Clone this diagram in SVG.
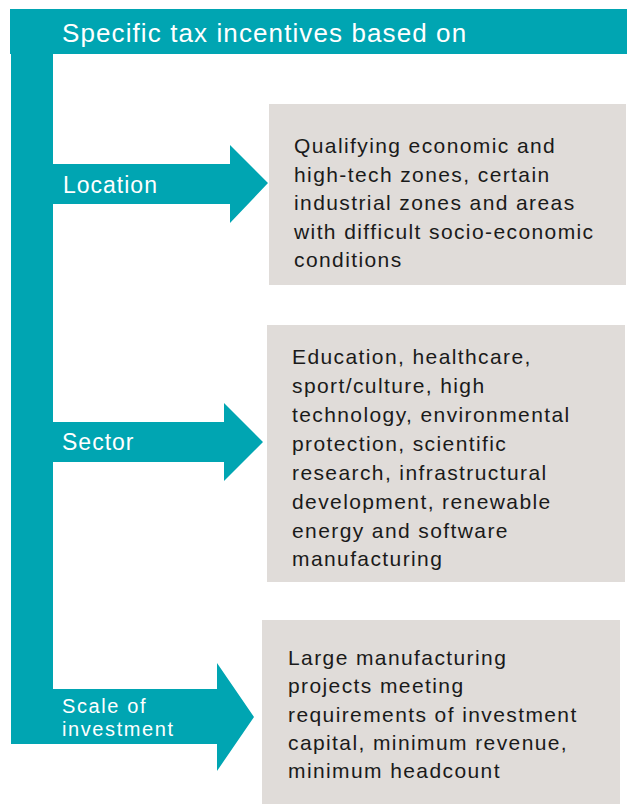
<svg xmlns="http://www.w3.org/2000/svg" width="629" height="804" viewBox="0 0 629 804">
<style>
.teal{fill:#00A5B2}
.box{fill:#E0DCD9}
.body{font-family:"Liberation Sans",Arial,sans-serif;font-size:21px;fill:#1a1a1a;letter-spacing:1.4px}
.lbl{font-family:"Liberation Sans",Arial,sans-serif;font-size:23px;fill:#ffffff;letter-spacing:1px}
.lbl2{font-family:"Liberation Sans",Arial,sans-serif;font-size:20px;fill:#ffffff;letter-spacing:1.6px}
.title{font-family:"Liberation Sans",Arial,sans-serif;font-size:26px;fill:#ffffff;letter-spacing:1.1px}
</style>
<g id="spine">
<rect class="teal" x="10" y="9" width="617" height="45"/>
<rect class="teal" x="11" y="9" width="42" height="735"/>
<text class="title" x="62" y="42">Specific tax incentives based on</text>
</g>
<g id="connectors">
<polygon class="teal" points="53,164 230,164 230,145 268,183 230,223 230,204 53,204"/>
<polygon class="teal" points="53,422 224,422 224,403 263,442 224,481 224,462 53,462"/>
<polygon class="teal" points="11,689 217,689 217,663 254,717 217,771 217,744 11,744"/>
</g>
<g id="location">
<text class="lbl" x="63" y="193">Location</text>
</g>
<g id="sector">
<text class="lbl" x="62" y="450">Sector</text>
</g>
<g id="scale">
<text class="lbl2" x="62" y="713">Scale of</text>
<text class="lbl2" x="62" y="736">investment</text>
</g>
<g id="location-box">
<rect class="box" x="269" y="104" width="357" height="181"/>
<text class="body" x="294" y="153">Qualifying economic and</text>
<text class="body" x="294" y="182">high-tech zones, certain</text>
<text class="body" x="294" y="210">industrial zones and areas</text>
<text class="body" x="294" y="239">with difficult socio-economic</text>
<text class="body" x="294" y="267">conditions</text>
</g>
<g id="sector-box">
<rect class="box" x="267" y="325" width="358" height="257"/>
<text class="body" x="292" y="364">Education, healthcare,</text>
<text class="body" x="292" y="393">sport/culture, high</text>
<text class="body" x="292" y="422">technology, environmental</text>
<text class="body" x="292" y="451">protection, scientific</text>
<text class="body" x="292" y="480">research, infrastructural</text>
<text class="body" x="292" y="509">development, renewable</text>
<text class="body" x="292" y="538">energy and software</text>
<text class="body" x="292" y="566">manufacturing</text>
</g>
<g id="scale-box">
<rect class="box" x="262" y="620" width="358" height="184"/>
<text class="body" x="288" y="665">Large manufacturing</text>
<text class="body" x="288" y="693">projects meeting</text>
<text class="body" x="288" y="722">requirements of investment</text>
<text class="body" x="288" y="750">capital, minimum revenue,</text>
<text class="body" x="288" y="778">minimum headcount</text>
</g>
</svg>
